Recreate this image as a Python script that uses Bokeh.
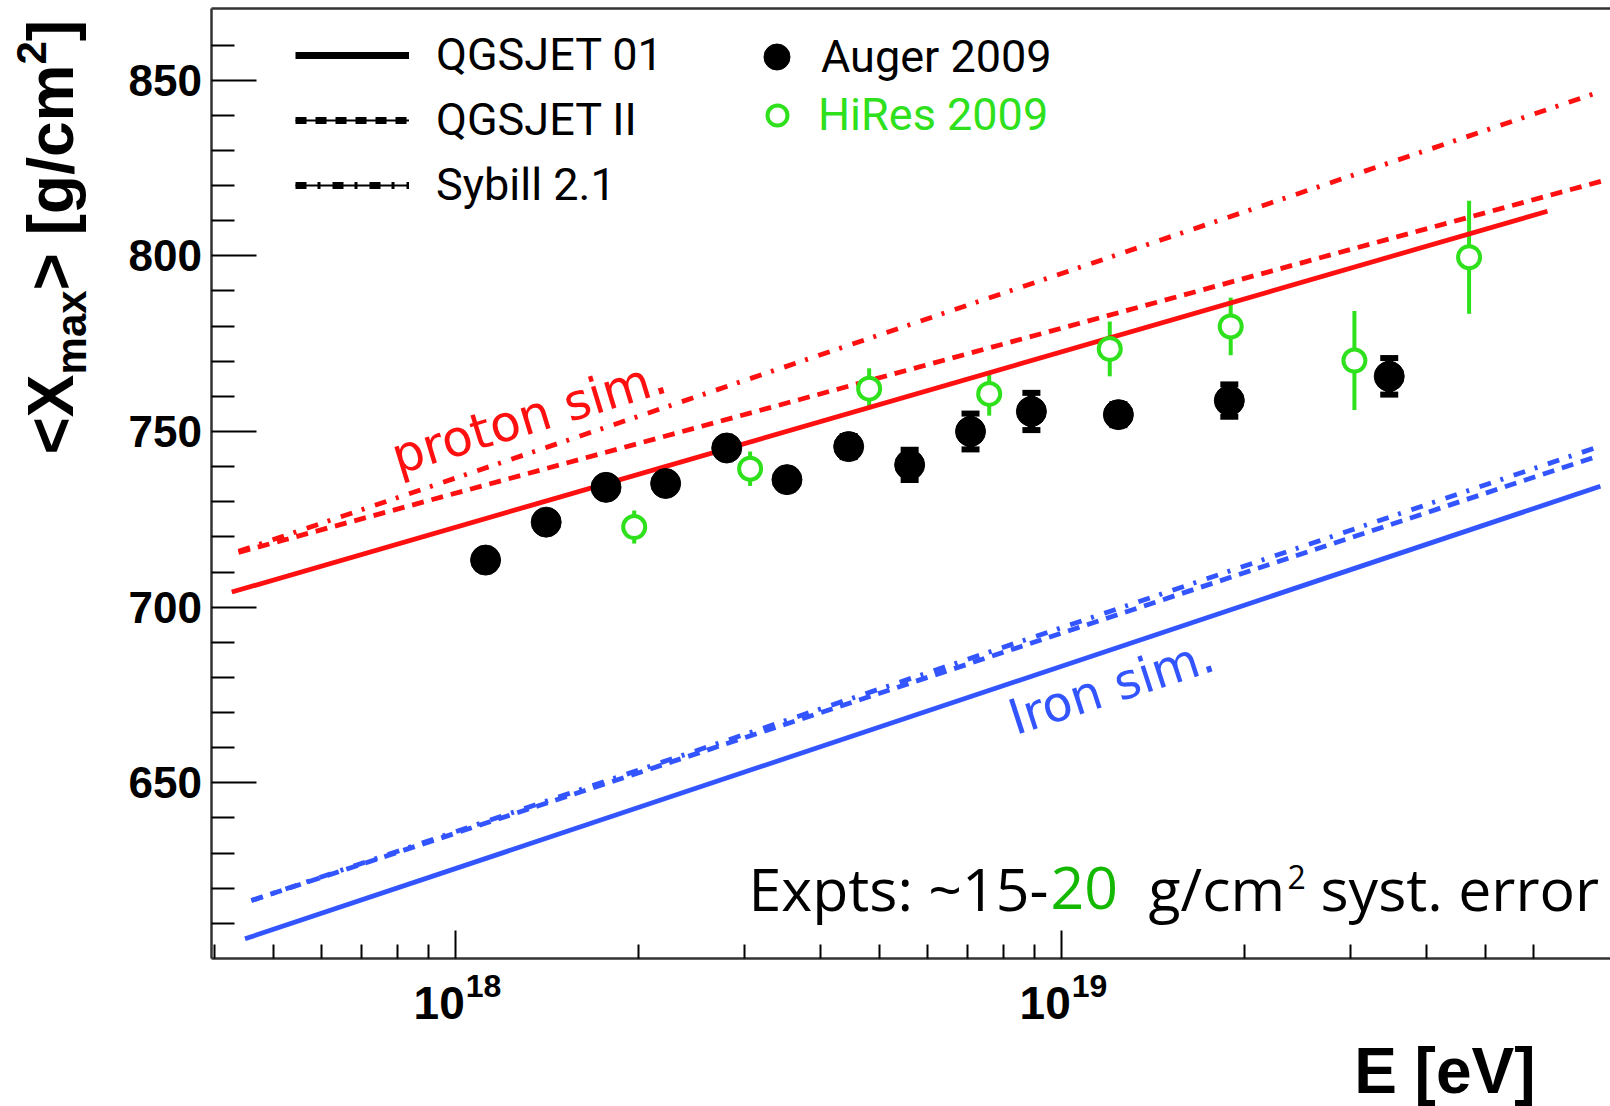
import math
from bokeh.plotting import figure
from bokeh.models import (FixedTicker, Label, Legend, LegendItem, Whisker, TeeHead,
                          ColumnDataSource, Range1d, LogAxis, CustomJSTickFormatter)
from bokeh.embed import file_html
from bokeh.resources import INLINE

# ---------------- data ----------------
auger_E = [1.12e18, 1.41e18, 1.77e18, 2.22e18, 2.80e18, 3.52e18, 4.45e18,
           5.61e18, 7.07e18, 8.91e18, 1.24e19, 1.89e19, 3.47e19]
auger_X = [713.4, 724.2, 734.1, 735.2, 745.3, 736.3, 745.7,
           740.5, 750.0, 755.7, 754.8, 758.8, 765.7]
auger_err = [2.5, 2.5, 2.5, 2.5, 2.5, 2.8, 3.0,
             4.3, 5.1, 5.3, 3.0, 4.6, 5.2]

hires_E = [1.97e18, 3.06e18, 4.81e18, 7.59e18, 1.20e19, 1.90e19, 3.04e19, 4.70e19]
hires_X = [722.8, 739.4, 762.2, 760.7, 773.5, 779.9, 770.2, 799.6]
hires_err = [4.7, 4.9, 5.8, 6.2, 7.8, 8.2, 14.1, 16.1]

# model predictions (straight in log E): [start, end]
proton_qgs01_E = [4.27e17, 6.33e19]
proton_qgs01_X = [704.3, 812.7]
proton_qgs2_E = [4.38e17, 7.83e19]
proton_qgs2_X = [715.6, 821.4]
proton_syb_E = [4.38e17, 7.55e19]
proton_syb_X = [715.9, 846.1]

iron_qgs01_E = [4.49e17, 7.74e19]
iron_qgs01_X = [605.6, 734.4]
iron_qgs2_E = [4.60e17, 7.64e19]
iron_qgs2_X = [616.5, 742.9]
iron_syb_E = [4.60e17, 7.64e19]
iron_syb_X = [616.5, 745.5]

y_major = [650, 700, 750, 800, 850]
y_minor = [610, 620, 630, 640, 660, 670, 680, 690, 710, 720, 730, 740,
           760, 770, 780, 790, 810, 820, 830, 840, 860]
x_major = [1e18, 1e19]
x_minor = [4e17, 5e17, 6e17, 7e17, 8e17, 9e17,
           2e18, 3e18, 4e18, 5e18, 6e18, 7e18, 8e18, 9e18,
           2e19, 3e19, 4e19, 5e19, 6e19]
x_tick_labels = [("10", "18"), ("10", "19")]

legend_models = ["QGSJET 01", "QGSJET II", "Sybill 2.1"]
legend_data = ["Auger 2009", "HiRes 2009"]

# plotting box of the axes (data units)
BOX_X = (3.96e17, 8.0437e19)
BOX_Y = (600.0, 870.4)

# ---------------- style ----------------
RED = "#ff1010"
BLUE = "#3355ff"
GREEN = "#2fe01c"
DKGREEN = "#14b800"
FRAME = "#333333"
BOLD = "Liberation Sans"
W, H = 1610, 1106

p = figure(width=W, height=H, x_axis_type="log",
           x_range=Range1d(1.7733e17, 8.0437e19), y_range=Range1d(557.88, 872.67),
           output_backend="svg", toolbar_location=None, min_border=0)
p.title.visible = False
p.xgrid.visible = False
p.ygrid.visible = False
p.outline_line_color = None
p.background_fill_color = "white"
p.border_fill_color = "white"

# axes drawn at the box edges
yax = p.yaxis[0]
yax.fixed_location = BOX_X[0]
yax.bounds = BOX_Y
yax.ticker = FixedTicker(ticks=y_major, minor_ticks=y_minor)
yax.major_tick_in = 45
yax.major_tick_out = 0
yax.minor_tick_in = 23
yax.minor_tick_out = 0
yax.major_label_text_font = BOLD
yax.major_label_text_font_style = "bold"
yax.major_label_text_font_size = "44px"
yax.major_label_text_color = "black"
yax.major_label_standoff = 10

xax = p.xaxis[0]
xax.fixed_location = BOX_Y[0]
xax.bounds = BOX_X
xax.ticker = FixedTicker(ticks=x_major, minor_ticks=x_minor)
xax.major_tick_in = 28
xax.major_tick_out = 0
xax.minor_tick_in = 14
xax.minor_tick_out = 0
xax.formatter = CustomJSTickFormatter(code="return ''")

top = LogAxis(fixed_location=BOX_Y[1], bounds=BOX_X, ticker=FixedTicker(ticks=[]),
              major_tick_in=0, major_tick_out=0, minor_tick_in=0, minor_tick_out=0,
              formatter=CustomJSTickFormatter(code="return ''"))
p.add_layout(top, "above")

for ax in (xax, yax, top):
    ax.axis_line_color = FRAME
    ax.axis_line_width = 2.5
    ax.major_tick_line_color = "black"
    ax.major_tick_line_width = 2
    ax.minor_tick_line_color = "black"
    ax.minor_tick_line_width = 2

# model lines
LW = 4.8
p.line(proton_qgs01_E, proton_qgs01_X, line_color=RED, line_width=LW)
p.line(proton_qgs2_E, proton_qgs2_X, line_color=RED, line_width=LW, line_dash="12 8")
p.line(proton_syb_E, proton_syb_X, line_color=RED, line_width=LW, line_dash="12 10 3 11")
p.line(iron_qgs01_E, iron_qgs01_X, line_color=BLUE, line_width=LW)
p.line(iron_qgs2_E, iron_qgs2_X, line_color=BLUE, line_width=LW, line_dash="12 8")
p.line(iron_syb_E, iron_syb_X, line_color=BLUE, line_width=LW, line_dash="12 10 3 11")

# HiRes
src_h = ColumnDataSource(dict(x=hires_E, y=hires_X,
                              lo=[y - e for y, e in zip(hires_X, hires_err)],
                              hi=[y + e for y, e in zip(hires_X, hires_err)]))
p.add_layout(Whisker(source=src_h, base="x", lower="lo", upper="hi", dimension="height",
                     line_color=GREEN, line_width=4, upper_head=None, lower_head=None,
                     level="underlay"))
r_h = p.scatter("x", "y", source=src_h, marker="circle", size=22,
                fill_color="white", line_color=GREEN, line_width=4)

# Auger
src_a = ColumnDataSource(dict(x=auger_E, y=auger_X,
                              lo=[y - e for y, e in zip(auger_X, auger_err)],
                              hi=[y + e for y, e in zip(auger_X, auger_err)]))
p.add_layout(Whisker(source=src_a, base="x", lower="lo", upper="hi", dimension="height",
                     line_color="black", line_width=8,
                     upper_head=TeeHead(size=18, line_width=6, line_color="black"),
                     lower_head=TeeHead(size=18, line_width=6, line_color="black"),
                     level="underlay"))
r_a = p.scatter("x", "y", source=src_a, marker="circle", size=30,
                fill_color="black", line_color="black", line_width=1)

# legend sample renderers (black; a single NaN point so nothing is drawn in the plot)
NAN = [float("nan")]
l1 = p.line(NAN, NAN, line_color="black", line_width=7)
l2a = p.line(NAN, NAN, line_color="black", line_width=2)
l2b = p.line(NAN, NAN, line_color="black", line_width=7, line_dash="11 9")
l3a = p.line(NAN, NAN, line_color="black", line_width=2)
l3b = p.line(NAN, NAN, line_color="black", line_width=7, line_dash="11 11 3 12")

common = dict(orientation="vertical", padding=0, margin=0, border_line_color=None,
              background_fill_alpha=0, label_text_font="Roboto",
              label_text_font_size="45px", spacing=12)
leg1 = Legend(items=[LegendItem(label=legend_models[0], renderers=[l1]),
                     LegendItem(label=legend_models[1], renderers=[l2a, l2b]),
                     LegendItem(label=legend_models[2], renderers=[l3a, l3b])],
              location=(295, 895), glyph_width=114, glyph_height=52, label_height=52,
              label_standoff=27, label_text_color="black", **common)
leg2 = Legend(items=[LegendItem(label=legend_data[0], renderers=[r_a])],
              location=(744, 1017), glyph_width=65, glyph_height=65, label_height=65,
              label_standoff=12, label_text_color="black", **common)
leg3 = Legend(items=[LegendItem(label=legend_data[1], renderers=[r_h])],
              location=(752, 965), glyph_width=50, glyph_height=50, label_height=50,
              label_standoff=16, label_text_color=GREEN, **common)
for lg in (leg1, leg2, leg3):
    p.add_layout(lg)

SHIFT = 0.3  # baseline correction (fraction of font size)


def lab(text, x, y, size, color="black", font=BOLD, style="bold", angle_deg=0.0,
        align="left", xu="screen", yu="screen", dx=0.0, dy=0.0):
    """x, y: screen px from the left / from the top of the picture unless data units."""
    a = math.radians(angle_deg)
    yy = (H - y) if yu == "screen" else y
    p.add_layout(Label(text=text, x=x, y=yy, x_units=xu, y_units=yu,
                       text_font=font, text_font_style=style, text_font_size=f"{size}px",
                       text_color=color, angle=a, text_align=align,
                       text_baseline="alphabetic",
                       x_offset=dx - SHIFT * size * math.sin(a),
                       y_offset=dy + SHIFT * size * math.cos(a)))


# y-axis title  <X_max> [g/cm^2], rotated, reading upwards
BIG, SMALL = 64, 42
adv = {"<": .584, "X": .667, ">": .584, " ": .278, "[": .333, "g": .611, "/": .278,
       "c": .556, "m": .889, "]": .333, "a": .556, "x": .556, "2": .556}
ypos = 454.0
for txt, size, off in [("<X", BIG, 0), ("max", SMALL, 14), ("> [g/cm", BIG, 0),
                       ("2", SMALL, -26), ("]", BIG, 0)]:
    lab(txt, 70 + off, ypos, size, angle_deg=90)
    ypos -= sum(adv[c] for c in txt) * size

# x tick labels 10^18, 10^19
for xv, (base, ex) in zip(x_major, x_tick_labels):
    lab(base, xv, 1016, 46, align="right", xu="data", dx=9)
    lab(ex, xv, 995, 32, align="left", xu="data", dx=10)

# x-axis title
lab("E [eV]", 1535, 1090, 64, align="right")

# systematic-error note
F2 = "Open Sans"
BL = 905
lab("Expts: ~15-", 748, BL, 59, font=F2, style="normal")
lab("20", 1050, BL, 59, font=F2, style="normal", color=DKGREEN)
lab("g/cm", 1148, BL, 59, font=F2, style="normal")
lab("2", 1287, BL - 19, 32, font=F2, style="normal")
lab("syst. error", 1320, BL, 59, font=F2, style="normal")

F3 = "DejaVu Sans"
lab("proton sim.", 8.01e17, 738.3, 50, color=RED, font=F3, style="normal",
    angle_deg=17, xu="data", yu="data")
lab("Iron sim.", 8.37e18, 664.0, 49, color=BLUE, font=F3, style="normal",
    angle_deg=18, xu="data", yu="data")

open("out.html", "w").write(file_html(p, INLINE))
